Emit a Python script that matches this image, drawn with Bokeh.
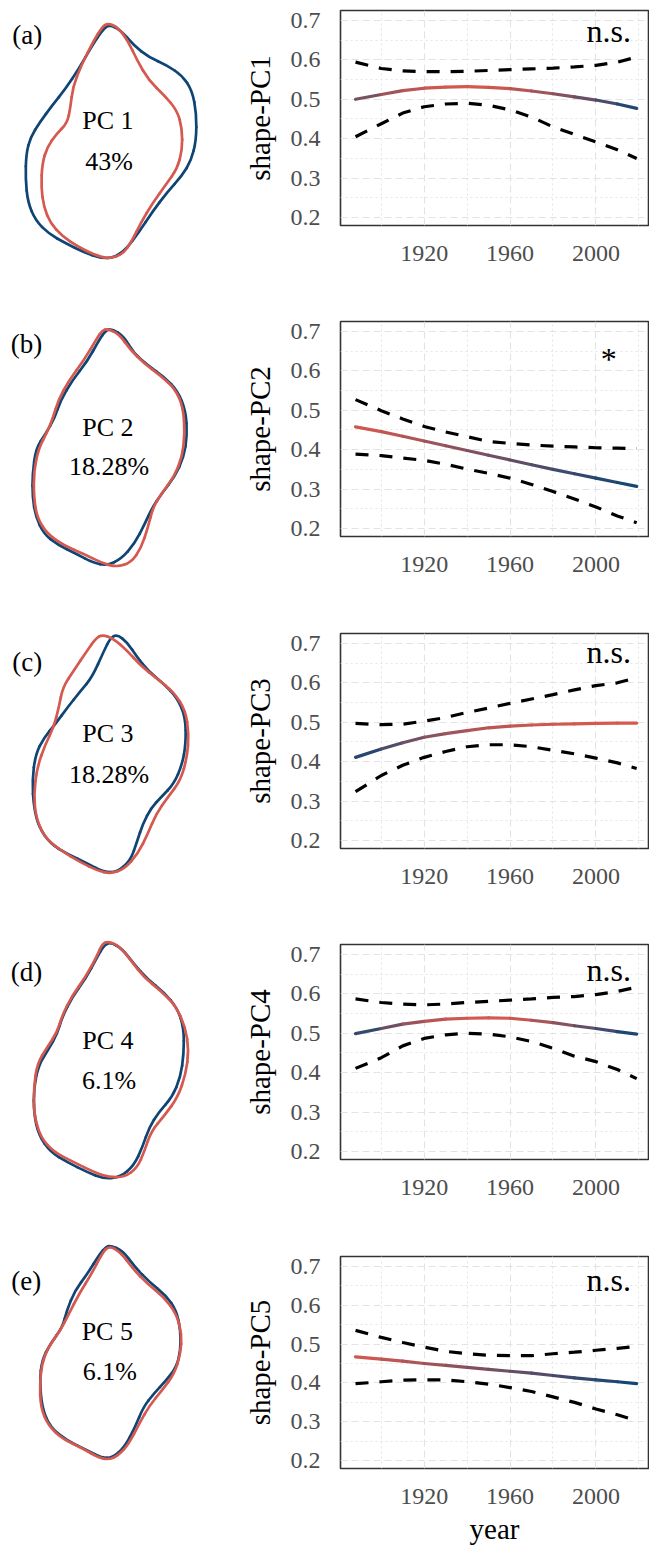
from bokeh.plotting import figure
from bokeh.layouts import column, row
from bokeh.models import Range1d, FixedTicker, PrintfTickFormatter, ColumnDataSource, LinearColorMapper
from bokeh.core.properties import value
from bokeh.embed import file_html
from bokeh.resources import INLINE

# ---------------- data ----------------
years = [1888, 1900, 1910, 1920, 1930, 1940, 1950, 1960, 1970, 1980, 1990, 2000, 2010, 2019]

pc1_fit = [0.500, 0.512, 0.522, 0.528, 0.531, 0.532, 0.530, 0.527, 0.521, 0.514, 0.506, 0.498, 0.488, 0.477]
pc1_hi = [0.594, 0.578, 0.572, 0.570, 0.570, 0.571, 0.573, 0.575, 0.577, 0.579, 0.582, 0.586, 0.594, 0.607]
pc1_lo = [0.405, 0.438, 0.465, 0.481, 0.488, 0.490, 0.485, 0.473, 0.455, 0.430, 0.411, 0.392, 0.372, 0.350]

pc2_fit = [0.458, 0.446, 0.434, 0.422, 0.410, 0.398, 0.386, 0.374, 0.362, 0.350, 0.339, 0.328, 0.317, 0.307]
pc2_hi = [0.527, 0.499, 0.478, 0.459, 0.445, 0.433, 0.421, 0.416, 0.412, 0.409, 0.407, 0.405, 0.404, 0.403]
pc2_lo = [0.389, 0.385, 0.379, 0.373, 0.363, 0.351, 0.340, 0.328, 0.312, 0.294, 0.275, 0.255, 0.232, 0.215]

pc3_fit = [0.411, 0.432, 0.448, 0.462, 0.471, 0.479, 0.486, 0.490, 0.493, 0.495, 0.496, 0.497, 0.498, 0.498]
pc3_hi = [0.497, 0.494, 0.495, 0.503, 0.512, 0.525, 0.536, 0.548, 0.559, 0.570, 0.582, 0.593, 0.600, 0.613]
pc3_lo = [0.324, 0.365, 0.391, 0.411, 0.426, 0.438, 0.443, 0.443, 0.438, 0.429, 0.420, 0.409, 0.397, 0.383]

pc4_fit = [0.499, 0.512, 0.523, 0.530, 0.536, 0.538, 0.539, 0.538, 0.533, 0.527, 0.519, 0.512, 0.504, 0.498]
pc4_hi = [0.587, 0.578, 0.574, 0.572, 0.574, 0.578, 0.581, 0.584, 0.587, 0.591, 0.593, 0.598, 0.606, 0.617]
pc4_lo = [0.411, 0.438, 0.468, 0.487, 0.496, 0.500, 0.498, 0.491, 0.479, 0.462, 0.442, 0.428, 0.408, 0.385]

pc5_fit = [0.467, 0.461, 0.456, 0.450, 0.445, 0.440, 0.435, 0.430, 0.425, 0.419, 0.413, 0.408, 0.403, 0.398]
pc5_hi = [0.535, 0.517, 0.504, 0.492, 0.481, 0.475, 0.471, 0.470, 0.470, 0.475, 0.479, 0.484, 0.489, 0.494]
pc5_lo = [0.398, 0.403, 0.407, 0.408, 0.408, 0.403, 0.397, 0.388, 0.378, 0.364, 0.350, 0.333, 0.318, 0.303]

panel_letters = ["(a)", "(b)", "(c)", "(d)", "(e)"]
pc_names = ["PC 1", "PC 2", "PC 3", "PC 4", "PC 5"]
pc_variance = ["43%", "18.28%", "18.28%", "6.1%", "6.1%"]
y_titles = ["shape-PC1", "shape-PC2", "shape-PC3", "shape-PC4", "shape-PC5"]
signif = ["n.s.", "*", "n.s.", "n.s.", "n.s."]

x_ticks = [1920, 1960, 2000]
x_minor = [1900, 1940, 1980, 2020]
y_ticks = [0.2, 0.3, 0.4, 0.5, 0.6, 0.7]
y_minor = [0.25, 0.35, 0.45, 0.55, 0.65]

# shape outlines (blue = one extreme, red = the other), outline control points
pc1_blue = [(325,72),(360,88),(400,135),(445,170),(500,195),(545,225),(575,270),(588,340),(587,420),(572,480),(545,525),(500,575),(455,635),(415,695),(378,745),(340,772),(300,773),(250,755),(195,728),(145,700),(105,660),(82,605),(75,535),(77,460),(90,410),(118,365),(155,315),(195,265),(235,205),(275,135),(305,90)]
pc1_red = [(322,68),(352,80),(382,120),(410,180),(445,240),(492,285),(530,330),(545,385),(545,450),(530,505),(498,550),(455,610),(422,665),(395,720),(368,760),(328,775),(285,765),(232,738),(185,707),(150,668),(130,620),(122,560),(125,490),(140,440),(168,400),(200,368),(210,320),(217,260),(242,195),(280,120),(305,80)]
pc2_blue = [(335,85),(370,108),(400,158),(442,195),(492,230),(532,272),(556,332),(560,405),(550,470),(522,530),(483,580),(455,622),(432,672),(402,730),(362,775),(320,795),(278,787),(228,760),(170,732),(130,700),(106,650),(96,590),(96,520),(106,445),(135,400),(163,352),(180,300),(215,240),(260,183),(295,120),(315,90)]
pc2_red = [(320,85),(355,100),(390,148),(430,188),(480,225),(524,265),(548,320),(553,400),(545,470),(520,530),(482,580),(457,622),(442,682),(422,742),(392,786),(348,800),(300,786),(250,760),(190,735),(140,700),(110,652),(100,590),(100,510),(115,442),(140,395),(158,350),(173,300),(205,240),(250,180),(290,112),(305,90)]
pc3_blue = [(350,72),(380,95),(410,140),(442,180),(490,220),(530,262),(555,320),(556,400),(545,462),(520,520),(482,560),(452,592),(427,640),(410,692),(390,750),(350,785),(310,785),(262,760),(200,730),(150,700),(115,650),(100,590),(95,510),(105,432),(130,382),(165,340),(200,292),(240,242),(275,200),(310,122),(330,82)]
pc3_red = [(305,72),(340,85),(380,120),(420,165),(470,205),(520,245),(555,300),(565,370),(560,440),(540,510),(502,560),(467,610),(442,670),(412,730),(372,775),(330,790),(290,780),(240,755),(180,720),(132,680),(106,620),(100,550),(110,470),(135,400),(160,350),(175,290),(187,230),(220,180),(260,120),(285,85)]
pc4_blue = [(330,65),(365,85),(400,130),(440,175),(490,215),(530,262),(550,322),(550,400),(540,470),(515,530),(475,575),(446,620),(426,680),(400,735),(360,770),(310,775),(260,755),(200,725),(150,695),(115,645),(100,580),(100,500),(115,432),(145,385),(170,340),(185,290),(215,230),(255,175),(290,110),(310,75)]
pc4_red = [(325,62),(360,80),(395,125),(430,170),(480,210),(525,255),(555,320),(565,390),(556,460),(532,530),(492,585),(452,632),(432,692),(410,742),(372,770),(325,770),(280,755),(220,725),(160,695),(120,650),(100,580),(100,500),(110,430),(140,380),(170,335),(185,285),(215,225),(255,170),(290,105),(305,70)]
pc5_blue = [(265,75),(295,90),(325,140),(360,185),(400,225),(425,270),(435,330),(435,390),(425,440),(400,480),(370,520),(345,560),(325,620),(300,680),(270,712),(245,712),(210,690),(160,660),(120,620),(100,560),(95,480),(100,420),(120,370),(150,320),(160,270),(180,210),(210,160),(240,100),(255,80)]
pc5_red = [(262,75),(290,95),(320,145),(355,190),(395,230),(425,280),(438,340),(435,400),(420,460),(390,510),(360,555),(335,610),(310,670),(285,705),(260,718),(235,710),(200,685),(150,655),(115,615),(97,560),(95,490),(100,430),(115,380),(145,330),(165,280),(190,220),(220,160),(245,100)]

fits = [pc1_fit, pc2_fit, pc3_fit, pc4_fit, pc5_fit]
his = [pc1_hi, pc2_hi, pc3_hi, pc4_hi, pc5_hi]
los = [pc1_lo, pc2_lo, pc3_lo, pc4_lo, pc5_lo]
blues = [pc1_blue, pc2_blue, pc3_blue, pc4_blue, pc5_blue]
reds = [pc1_red, pc2_red, pc3_red, pc4_red, pc5_red]

# ---------------- styling / layout ----------------
SERIF = "Liberation Serif"
BLUE = "#0f4575"
RED = "#d5594f"
PAGE_H = 1547
row_heights = [311, 312, 311, 312, 301]
shape_origin = [0, 300, 610, 920, 1220]   # page offset of each shape panel's outline units
shape_sx = [3, 3, 3, 3, 2.416]
shape_sy = 3
letter_pos = [(80, 102), (78, 130), (80, 155), (78, 155), (62, 182)]
name_pos = [(322, 360), (322, 380), (322, 370), (322, 360), (258, 333)]
var_pos = [(326, 482), (326, 497), (326, 492), (326, 480), (264, 452)]
sig_pos = [(2006, 0.673), (2006, 0.630), (2006, 0.678), (2006, 0.660), (2006, 0.664)]


def hexmix(c1, c2, t):
    a = [int(c1[i:i + 2], 16) for i in (1, 3, 5)]
    b = [int(c2[i:i + 2], 16) for i in (1, 3, 5)]
    return "#%02x%02x%02x" % tuple(round(a[k] + (b[k] - a[k]) * t) for k in range(3))


palette = [hexmix(BLUE, RED, i / 255) for i in range(256)]


def closed_curve(pts):
    """Smooth closed outline: quadratic pieces joining edge midpoints, with the
    read outline points as control points."""
    n = len(pts)
    d = dict(x0=[], y0=[], x1=[], y1=[], cx=[], cy=[])
    for k in range(n):
        a, b, c = pts[k - 1], pts[k], pts[(k + 1) % n]
        d["x0"].append((a[0] + b[0]) / 2)
        d["y0"].append((a[1] + b[1]) / 2)
        d["x1"].append((b[0] + c[0]) / 2)
        d["y1"].append((b[1] + c[1]) / 2)
        d["cx"].append(b[0])
        d["cy"].append(b[1])
    return ColumnDataSource(d)


# ----- one tall figure holding all shape panels -----
s = figure(width=240, height=PAGE_H, x_range=Range1d(0, 240), y_range=Range1d(PAGE_H, 0),
           toolbar_location=None, output_backend="svg", x_axis_type=None, y_axis_type=None,
           min_border=0, outline_line_color=None)
s.xgrid.visible = False
s.ygrid.visible = False
for i in range(5):
    o = shape_origin[i]
    xr, yr = "sx%d" % i, "sy%d" % i
    s.extra_x_ranges[xr] = Range1d(0, 240 * shape_sx[i])
    s.extra_y_ranges[yr] = Range1d((PAGE_H - o) * shape_sy, (0 - o) * shape_sy)
    for pts, col in ((blues[i], BLUE), (reds[i], RED)):
        s.quadratic("x0", "y0", "x1", "y1", "cx", "cy", source=closed_curve(pts),
                    line_color=col, line_width=2.7, line_cap="round",
                    x_range_name=xr, y_range_name=yr)
    s.text(x=[letter_pos[i][0]], y=[letter_pos[i][1]], text=[panel_letters[i]],
           text_font=value(SERIF), text_font_size="27px", text_align="center",
           text_baseline="middle", text_color="black", x_range_name=xr, y_range_name=yr)
    s.text(x=[name_pos[i][0], var_pos[i][0]], y=[name_pos[i][1], var_pos[i][1]],
           text=[pc_names[i], pc_variance[i]],
           text_font=value(SERIF), text_font_size="26px", text_align="center",
           text_baseline="middle", text_color="black", x_range_name=xr, y_range_name=yr)

# ----- trend panels -----
plots = []
for i in range(5):
    H = row_heights[i]
    last = (i == 4)
    p = figure(width=409, height=H, x_range=Range1d(1881, 2024.5), y_range=Range1d(0.18, 0.725),
               toolbar_location=None, output_backend="svg",
               min_border_left=97, min_border_right=1, min_border_top=10,
               min_border_bottom=H - 225)
    p.outline_line_color = "#333333"
    p.outline_line_width = 1.6
    p.outline_line_alpha = 1.0

    p.xaxis.ticker = FixedTicker(ticks=x_ticks, minor_ticks=x_minor)
    p.yaxis.ticker = FixedTicker(ticks=y_ticks, minor_ticks=y_minor)
    p.yaxis.formatter = PrintfTickFormatter(format="%.1f")
    for ax in (p.xaxis, p.yaxis):
        ax.axis_line_color = None
        ax.major_tick_line_color = None
        ax.minor_tick_line_color = None
        ax.major_label_text_font = SERIF
        ax.major_label_text_font_size = "24px"
        ax.major_label_text_color = "#4d4d4d"
        ax.axis_label_text_font = SERIF
        ax.axis_label_text_font_style = "normal"
        ax.axis_label_text_color = "black"
        ax.axis_label_text_font_size = "29px"
    p.xaxis.major_label_standoff = 14
    p.yaxis.major_label_standoff = 14
    p.yaxis.axis_label = y_titles[i]
    p.yaxis.axis_label_standoff = 12
    if last:
        p.xaxis.axis_label = "year"
        p.xaxis.axis_label_standoff = 6

    for g in (p.xgrid, p.ygrid):
        g.grid_line_color = "#e3e3e3"
        g.grid_line_dash = "7 4"
        g.grid_line_width = 1.1
        g.minor_grid_line_color = "#e6e6e6"
        g.minor_grid_line_dash = "2 3"
        g.minor_grid_line_width = 1.1

    fit = fits[i]
    src = ColumnDataSource(dict(
        x0=years[:-1], x1=years[1:], y0=fit[:-1], y1=fit[1:],
        ym=[(a + b) / 2 for a, b in zip(fit[:-1], fit[1:])]))
    mapper = LinearColorMapper(palette=palette, low=min(fit), high=max(fit))
    p.segment("x0", "y0", "x1", "y1", source=src,
              line_color={"field": "ym", "transform": mapper}, line_width=3.2, line_cap="round")
    p.line(years, his[i], line_color="black", line_width=3.2, line_dash="13 11")
    p.line(years, los[i], line_color="black", line_width=3.2, line_dash="13 11")

    p.text(x=[sig_pos[i][0]], y=[sig_pos[i][1]], text=[signif[i]],
           text_font=value(SERIF), text_font_size="32px", text_align="center",
           text_baseline="alphabetic", text_color="black")
    plots.append(p)

layout = row(s, column(*plots))
open("out.html", "w").write(file_html(layout, INLINE))
